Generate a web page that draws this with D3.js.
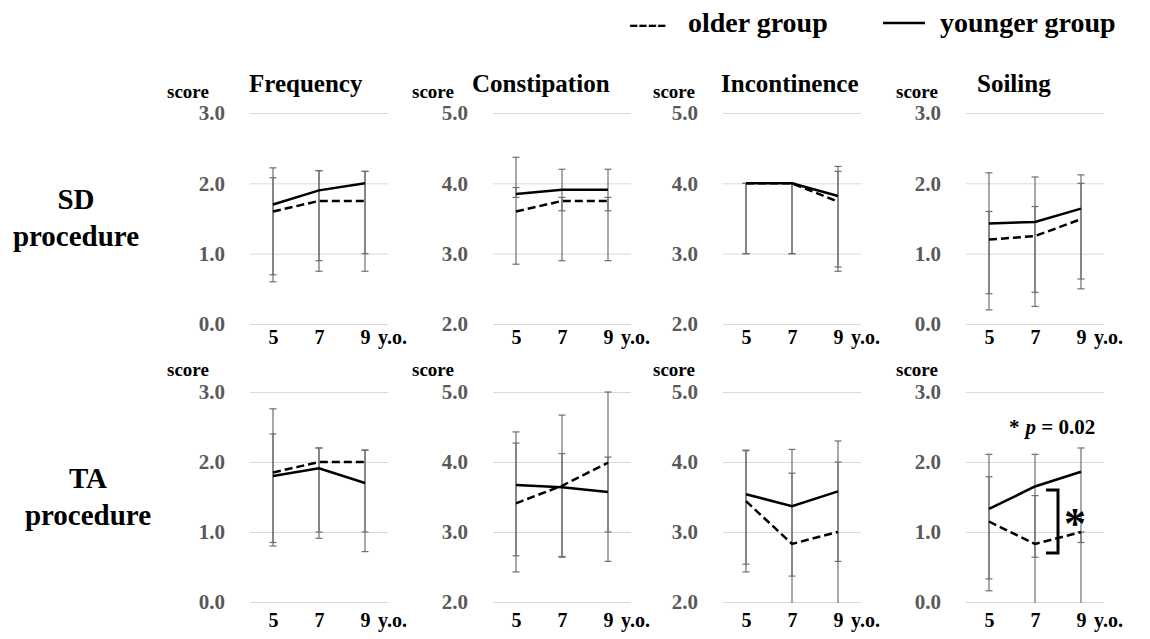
<!DOCTYPE html>
<html>
<head>
<meta charset="utf-8">
<script src="https://cdn.jsdelivr.net/npm/d3@7"></script>
<style>
  body { margin: 0; background: #fff; }
  svg, svg text { font-family: "Liberation Serif", Tinos, "Times New Roman", Times, "DejaVu Serif", serif !important; font-weight: bold; }
</style>
</head>
<body>
<div id="chart"></div>
<script>
const ages = ['5', '7', '9'];
const measures = ['Frequency', 'Constipation', 'Incontinence', 'Soiling'];
const procedures = ['SD', 'TA'];
const yDomains = [[0, 3], [2, 5], [2, 5], [0, 3]];

// mean scores, one array per measure
const sdYounger = [[1.70, 1.90, 2.00], [3.85, 3.91, 3.91], [4.00, 4.00, 3.82], [1.43, 1.45, 1.64]];
const sdOlder   = [[1.60, 1.75, 1.75], [3.60, 3.75, 3.75], [4.00, 4.00, 3.74], [1.20, 1.25, 1.49]];
const taYounger = [[1.80, 1.91, 1.70], [3.67, 3.64, 3.57], [3.54, 3.37, 3.58], [1.33, 1.65, 1.86]];
const taOlder   = [[1.85, 2.00, 2.00], [3.41, 3.66, 3.99], [3.44, 2.83, 3.00], [1.15, 0.83, 1.00]];

// error bar ends [low, high] per age
const sdYoungerErr = [
  [[0.70, 2.22], [0.90, 2.18], [1.00, 2.17]],
  [[2.85, 4.37], [2.90, 4.20], [2.90, 4.20]],
  [[3.00, 4.00], [3.00, 4.00], [2.81, 4.17]],
  [[0.43, 2.15], [0.45, 2.09], [0.64, 2.12]]
];
const sdOlderErr = [
  [[0.60, 2.08], [0.75, 2.18], [0.75, 2.17]],
  [[3.80, 3.94], [3.61, 3.80], [3.61, 3.80]],
  [[3.00, 4.00], [3.00, 4.00], [2.75, 4.24]],
  [[0.20, 1.60], [0.25, 1.67], [0.50, 2.00]]
];
const taYoungerErr = [
  [[0.85, 2.76], [0.91, 2.20], [0.72, 2.17]],
  [[2.66, 4.27], [2.65, 4.67], [2.58, 5.00]],
  [[2.54, 4.17], [2.37, 4.18], [2.58, 4.30]],
  [[0.33, 2.11], [0.64, 2.11], [0.85, 2.20]]
];
const taOlderErr = [
  [[0.80, 2.40], [1.00, 2.20], [1.00, 2.17]],
  [[2.43, 4.43], [2.64, 4.12], [3.00, 4.07]],
  [[2.43, 4.16], [1.90, 3.84], [1.90, 4.00]],
  [[0.16, 1.79], [-0.10, 1.52], [-0.10, 1.00]]
];

const pLabel = '0.02';

const width = 1150, height = 639;
const plotWidth = 138;
const cols = [
  {left: 250, title: 249, score: 167},
  {left: 493, title: 472, score: 412},
  {left: 723, title: 721, score: 653},
  {left: 966, title: 977, score: 896}
];
const rows = [
  {top: 113, bottom: 324, labelX: 76, labelY: 209, titleY: 92, scoreY: 98, xPad: 6},
  {top: 392, bottom: 602, labelX: 88, labelY: 488, titleY: null, scoreY: 376, xPad: 11}
];

const series = [
  {younger: sdYounger, older: sdOlder, youngerErr: sdYoungerErr, olderErr: sdOlderErr},
  {younger: taYounger, older: taOlder, youngerErr: taYoungerErr, olderErr: taOlderErr}
];

const svg = d3.select('#chart')
  .append('svg')
  .attr('width', width)
  .attr('height', height);

// Legend
svg.append('text').attr('x', 629).attr('y', 32).style('font-size', '28px').text('----');
svg.append('text').attr('x', 688).attr('y', 32).style('font-size', '28px').text('older group');
svg.append('line').attr('x1', 883).attr('x2', 925).attr('y1', 23).attr('y2', 23)
  .attr('stroke', '#000').attr('stroke-width', 2.5);
svg.append('text').attr('x', 940).attr('y', 32).style('font-size', '28px').text('younger group');

// Row labels
rows.forEach((row, r) => {
  const t = svg.append('text')
    .attr('text-anchor', 'middle')
    .style('font-size', '29px');
  t.append('tspan').attr('x', row.labelX).attr('y', row.labelY).text(procedures[r]);
  t.append('tspan').attr('x', row.labelX).attr('y', row.labelY + 37).text('procedure');
});

function drawPanel(r, c) {
  const row = rows[r], col = cols[c];
  const s = series[r];
  const g = svg.append('g');

  const x = d3.scalePoint().domain(ages).range([col.left, col.left + plotWidth]).padding(0.5);
  const y = d3.scaleLinear().domain(yDomains[c]).range([row.bottom, row.top]);

  // grid + y labels
  const yAxis = g.append('g')
    .attr('transform', `translate(${col.left},0)`)
    .call(d3.axisLeft(y).ticks(3).tickSize(-plotWidth).tickPadding(25).tickFormat(d3.format('.1f')));
  yAxis.attr('font-family', null);
  yAxis.select('.domain').remove();
  yAxis.selectAll('line').attr('stroke', '#d9d9d9');
  yAxis.selectAll('text')
    .attr('fill', '#595959')
    .style('font-size', '21px');

  // x labels
  const xAxis = g.append('g')
    .attr('transform', `translate(0,${row.bottom})`)
    .call(d3.axisBottom(x).tickSize(0).tickPadding(row.xPad));
  xAxis.attr('font-family', null);
  xAxis.select('.domain').remove();
  xAxis.selectAll('text')
    .attr('fill', '#000')
    .style('font-size', '20px');
  g.append('text')
    .attr('x', x('9') + 13)
    .attr('y', row.bottom + row.xPad)
    .attr('dy', '0.71em')
    .style('font-size', '20px')
    .text('y.o.');

  if (r === 0) {
    g.append('text')
      .attr('x', col.title)
      .attr('y', row.titleY)
      .style('font-size', '25px')
      .text(measures[c]);
  }
  g.append('text')
    .attr('x', col.score)
    .attr('y', row.scoreY)
    .style('font-size', '19px')
    .text('score');

  // error bars, clipped to the plot area
  const clipId = `clip-${r}-${c}`;
  g.append('clipPath').attr('id', clipId)
    .append('rect')
    .attr('x', col.left).attr('y', row.top - 1)
    .attr('width', plotWidth).attr('height', row.bottom - row.top + 2);

  const errG = g.append('g').attr('clip-path', `url(#${clipId})`);
  const capW = 3.5;
  [s.youngerErr[c], s.olderErr[c]].forEach(errs => {
    errs.forEach((e, i) => {
      const cx = x(ages[i]);
      errG.append('line')
        .attr('x1', cx).attr('x2', cx)
        .attr('y1', y(e[0])).attr('y2', y(e[1]))
        .attr('stroke', '#6f6f6f').attr('stroke-width', 1.2);
      e.forEach(v => {
        errG.append('line')
          .attr('x1', cx - capW).attr('x2', cx + capW)
          .attr('y1', y(v)).attr('y2', y(v))
          .attr('stroke', '#6f6f6f').attr('stroke-width', 1.2);
      });
    });
  });

  const line = d3.line()
    .x((d, i) => x(ages[i]))
    .y(d => y(d));

  g.append('path')
    .datum(s.older[c])
    .attr('d', line)
    .attr('fill', 'none')
    .attr('stroke', '#000')
    .attr('stroke-width', 2.5)
    .attr('stroke-dasharray', '8,4');

  g.append('path')
    .datum(s.younger[c])
    .attr('d', line)
    .attr('fill', 'none')
    .attr('stroke', '#000')
    .attr('stroke-width', 2.5);

  // significance annotation on TA soiling
  if (r === 1 && c === 3) {
    const t = g.append('text')
      .attr('x', x('7') - 26)
      .attr('y', y(2.4))
      .style('font-size', '21px');
    t.append('tspan').text('*');
    t.append('tspan').attr('dx', 6).style('font-style', 'italic').text('p');
    t.append('tspan').text(' = ' + pLabel);

    const bx = (x('7') + x('9')) / 2;
    g.append('path')
      .attr('d', `M${bx - 12},${y(1.6)}H${bx}V${y(0.7)}H${bx - 12}`)
      .attr('fill', 'none')
      .attr('stroke', '#000')
      .attr('stroke-width', 3);
    g.append('text')
      .attr('x', bx + 17)
      .attr('y', y(1.2) + 20)
      .attr('text-anchor', 'middle')
      .style('font-size', '44px')
      .text('*');
  }
}

rows.forEach((row, r) => cols.forEach((col, c) => drawPanel(r, c)));
</script>
</body>
</html>
